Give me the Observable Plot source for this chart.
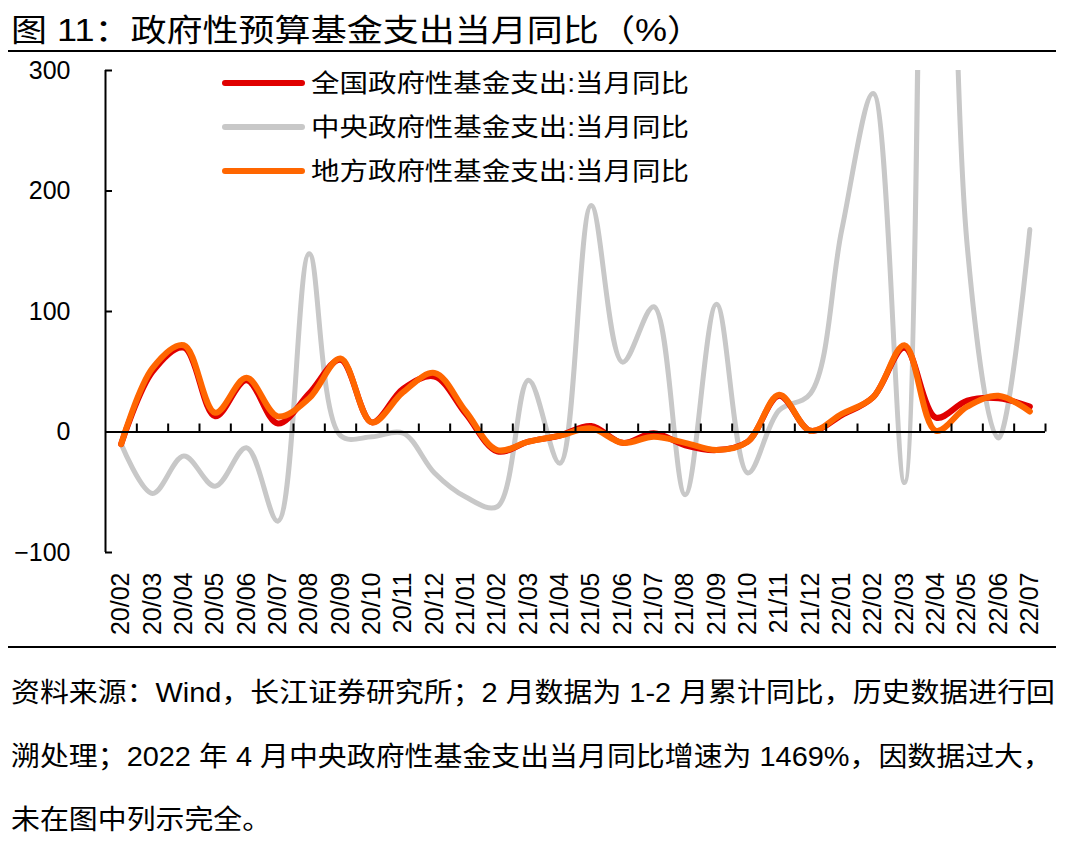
<!DOCTYPE html>
<html><head><meta charset="utf-8">
<script src="https://cdn.jsdelivr.net/npm/d3@7"></script>
<script src="https://cdn.jsdelivr.net/npm/@observablehq/plot@0.6"></script>
<style>
body{margin:0;background:#fff;}
#wrap{position:relative;width:1069px;height:847px;overflow:hidden;font-family:"Liberation Sans","Noto Sans CJK SC",sans-serif;color:#000;background:#fff;}
.abs{position:absolute;white-space:nowrap;line-height:1;}
.stretch{display:inline-block;transform-origin:0 50%;}
.hr{position:absolute;height:2px;background:#000;}
.sw{position:absolute;height:6px;border-radius:3px;}
svg{position:absolute;left:0;top:0;}
</style></head><body><div id="wrap"></div>
<script>
const months = ["20/02","20/03","20/04","20/05","20/06","20/07","20/08","20/09","20/10","20/11","20/12",
  "21/01","21/02","21/03","21/04","21/05","21/06","21/07","21/08","21/09","21/10","21/11","21/12",
  "22/01","22/02","22/03","22/04","22/05","22/06","22/07"];
const national = [-10, 50, 70, 13, 43, 7, 32, 60, 8, 36, 46, 15, -16, -8, -3, 5, -9, -1, -11, -15, -8, 30, 1, 14, 29, 70, 12, 26, 28, 21];
const central  = [-10, -51, -20, -45, -13, -74, 148, -3, -4, -1, -34, -54, -62, 43, -26, 188, 58, 104, -52, 106, -34, 18, 32, 168, 281, -42, 1469, 155, -5, 168];
const local    = [-10, 53, 72, 16, 45, 13, 28, 61, 8, 33, 49, 17, -15, -8, -3, 3, -9, -4, -9, -15, -8, 31, 1, 15, 29, 72, 1, 21, 30, 17];
const yTicks = [-100, 0, 100, 200, 300];
const seriesNames = ["全国政府性基金支出:当月同比", "中央政府性基金支出:当月同比", "地方政府性基金支出:当月同比"];
const seriesColors = ["#E00000", "#C8C8C8", "#FF6600"];
const titleText = "图 11：政府性预算基金支出当月同比（%）";
const noteLines = [
  "资料来源：Wind，长江证券研究所；2 月数据为 1-2 月累计同比，历史数据进行回",
  "溯处理；2022 年 4 月中央政府性基金支出当月同比增速为 1469%，因数据过大，",
  "未在图中列示完全。"
];

const wrap = document.getElementById("wrap");
const FONT = '"Liberation Sans","Noto Sans CJK SC",sans-serif';
const idx = d3.range(months.length);
const rows = vals => idx.map(i => ({i, v: vals[i]}));

const chart = Plot.plot({
  width: 1069, height: 650,
  marginLeft: 105, marginRight: 24, marginTop: 70, marginBottom: 98,
  x: {type: "linear", domain: [-0.5, months.length - 0.5], axis: null},
  y: {domain: [-100, 300], axis: null},
  style: {fontFamily: FONT, fontSize: "25px", color: "#000", background: "transparent", overflow: "visible"},
  marks: [
    Plot.axisY(yTicks, {anchor: "left", label: null, tickSize: 0, tickPadding: 35, fontSize: 25, fill: "#000"}),
    Plot.axisX(idx, {anchor: "bottom", label: null, tickSize: 0, tickPadding: 20, tickRotate: -90, tickFormat: i => months[i], fontSize: 25, fill: "#000"}),
    Plot.line(rows(central), {x: "i", y: "v", stroke: seriesColors[1], strokeWidth: 5, curve: "catmull-rom", clip: true}),
    Plot.line(rows(national), {x: "i", y: "v", stroke: seriesColors[0], strokeWidth: 6, curve: "catmull-rom", clip: true}),
    Plot.line(rows(local), {x: "i", y: "v", stroke: seriesColors[2], strokeWidth: 6, curve: "catmull-rom", clip: true}),
    Plot.ruleX([-0.5], {y1: -100, y2: 300, stroke: "#000", strokeWidth: 2}),
    Plot.ruleY(yTicks, {x1: -0.5, x2: -0.5, insetRight: -7, stroke: "#000", strokeWidth: 2}),
    Plot.ruleY([0], {x1: -0.5, x2: months.length - 0.5, stroke: "#000", strokeWidth: 2}),
    Plot.ruleX(d3.range(1, months.length + 1).map(k => k - 0.5), {y1: 0, y2: 0, insetTop: -8, stroke: "#000", strokeWidth: 2})
  ]
});
wrap.appendChild(chart);

function addText(txt, left, cy, size, target, scale) {
  const d = document.createElement("div");
  d.className = "abs";
  d.style.left = left + "px";
  d.style.top = (cy - size * 0.5) + "px";
  d.style.fontSize = size + "px";
  const s = document.createElement("span");
  s.className = "stretch";
  s.textContent = txt;
  d.appendChild(s);
  wrap.appendChild(d);
  let k = scale || 1;
  if (target) k = target / s.getBoundingClientRect().width;
  s.style.transform = `scaleX(${k})`;
  return k;
}
function addRule(top, left, width) {
  const r = document.createElement("div");
  r.className = "hr";
  r.style.top = top + "px"; r.style.left = left + "px"; r.style.width = width + "px";
  wrap.appendChild(r);
}

// title
addText(titleText, 11, 30, 31, 692);
addRule(50, 8, 1048);
addRule(646, 8, 1048);

// legend
const legendY = [83, 127, 171];
let lk = null;
seriesNames.forEach((name, j) => {
  const sw = document.createElement("div");
  sw.className = "sw";
  sw.style.left = "222px"; sw.style.width = "83px";
  sw.style.top = (legendY[j] - 3) + "px";
  sw.style.background = seriesColors[j];
  wrap.appendChild(sw);
  if (lk === null) lk = addText(name, 311, legendY[j], 25, 378);
  else addText(name, 311, legendY[j], 25, null, lk);
});

// footnote
const noteY = [693, 757, 820];
let nk = null;
noteLines.forEach((t, j) => {
  if (nk === null) nk = addText(t, 11, noteY[j], 27, 1044);
  else addText(t, 11, noteY[j], 27, null, nk);
});
</script></body></html>
